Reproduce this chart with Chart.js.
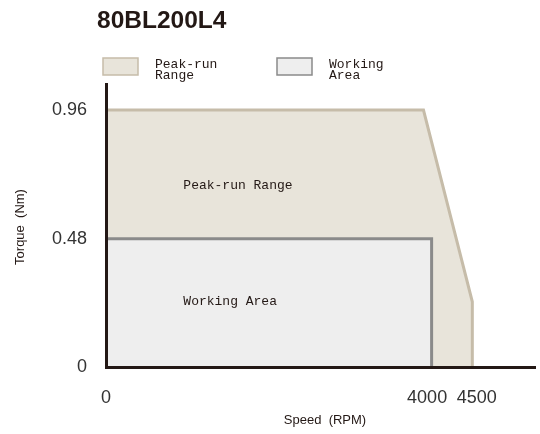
<!DOCTYPE html>
<html>
<head>
<meta charset="utf-8">
<script src="https://cdn.jsdelivr.net/npm/chart.js@4.4.1/dist/chart.umd.min.js"></script>
<style>
  html, body { margin: 0; padding: 0; background: #fff; }
  #wrap { width: 540px; height: 434px; position: relative; }
</style>
</head>
<body>
<div id="wrap"><canvas id="torqueChart" width="540" height="434"></canvas></div>
<script>
const chartTitle = "80BL200L4";
const seriesNames = ["Peak-run Range", "Working Area"];
const legendLines = [["Peak-run", "Range"], ["Working", "Area"]];

// outline points (speed RPM, torque Nm)
const peakSpeed = [0, 3900, 4500, 4500];
const peakTorque = [0.96, 0.96, 0.245, 0];
const workSpeed = [0, 4000, 4000];
const workTorque = [0.48, 0.48, 0];

const speedTicks = [0, 4000, 4500];
const torqueTicks = [0, 0.48, 0.96];

const toPoints = (xs, ys) => xs.map((x, i) => ({ x: x, y: ys[i] }));

const peakFill = "#e8e4da";
const peakLine = "#c6bca9";
const workFill = "#eeeeee";
const workLine = "#8a8a8a";
const axisColor = "#231815";

const labelsPlugin = {
  id: "labels",
  afterDraw(chart) {
    const ctx = chart.ctx;
    const xs = chart.scales.x;
    const ys = chart.scales.y;
    ctx.save();

    // title
    ctx.fillStyle = "#231815";
    ctx.font = "bold 24.5px 'Liberation Sans', Arial, sans-serif";
    ctx.textBaseline = "middle";
    ctx.textAlign = "left";
    ctx.fillText(chartTitle, 97, 21);

    // legend
    const boxes = [
      { x: 103, fill: peakFill, line: peakLine },
      { x: 277, fill: workFill, line: workLine },
    ];
    ctx.font = "13px 'Liberation Mono', monospace";
    boxes.forEach((b, i) => {
      ctx.fillStyle = b.fill;
      ctx.fillRect(b.x, 58, 35, 17);
      ctx.strokeStyle = b.line;
      ctx.lineWidth = 1.5;
      ctx.strokeRect(b.x, 58, 35, 17);
      ctx.fillStyle = "#231815";
      legendLines[i].forEach((t, j) => {
        ctx.fillText(t, b.x + 52, 65 + j * 11);
      });
    });

    // labels inside the areas
    ctx.fillText(seriesNames[0], xs.getPixelForValue(950), ys.getPixelForValue(0.68));
    ctx.fillText(seriesNames[1], xs.getPixelForValue(950), ys.getPixelForValue(0.245));

    // axis titles
    ctx.font = "13px 'Liberation Sans', Arial, sans-serif";
    ctx.textAlign = "center";
    ctx.fillText("Speed  (RPM)", 325, 420);
    ctx.translate(20, 227);
    ctx.rotate(-Math.PI / 2);
    ctx.fillText("Torque  (Nm)", 0, 0);
    ctx.restore();
  },
};

// nudge the two close speed labels apart a little, as in the source figure
const speedLabel = (v) => {
  if (v === 4000) return "4000\u2002";
  if (v === 4500) return "\u20024500";
  return String(v);
};

new Chart(document.getElementById("torqueChart"), {
  type: "scatter",
  data: {
    datasets: [
      {
        label: seriesNames[1],
        data: toPoints(workSpeed, workTorque),
        showLine: true,
        fill: "origin",
        backgroundColor: workFill,
        borderColor: workLine,
        borderWidth: 3,
        pointRadius: 0,
        tension: 0,
        order: 0,
      },
      {
        label: seriesNames[0],
        data: toPoints(peakSpeed, peakTorque),
        showLine: true,
        fill: "origin",
        backgroundColor: peakFill,
        borderColor: peakLine,
        borderWidth: 3,
        pointRadius: 0,
        tension: 0,
        order: 1,
      },
    ],
  },
  options: {
    responsive: false,
    animation: false,
    layout: { padding: { top: 84, right: 5, left: 0, bottom: 0 } },
    plugins: {
      legend: { display: false },
      tooltip: { enabled: false },
    },
    scales: {
      x: {
        type: "linear",
        min: 0,
        max: 5270,
        afterBuildTicks: (scale) => {
          scale.ticks = speedTicks.map((v) => ({ value: v }));
        },
        afterFit: (scale) => {
          scale.height = 66.5;
        },
        grid: { display: false },
        border: { display: true, color: axisColor, width: 3, z: 1 },
        ticks: {
          padding: 12,
          color: "#333",
          font: { family: "'Liberation Sans', Arial, sans-serif", size: 18 },
          callback: speedLabel,
        },
      },
      y: {
        type: "linear",
        min: 0,
        max: 1.057,
        afterBuildTicks: (scale) => {
          scale.ticks = torqueTicks.map((v) => ({ value: v }));
        },
        afterFit: (scale) => {
          scale.width = 106;
        },
        grid: { display: false },
        border: { display: true, color: axisColor, width: 3, z: 1 },
        ticks: {
          padding: 11,
          color: "#333",
          font: { family: "'Liberation Sans', Arial, sans-serif", size: 18 },
          callback: (v) => String(v),
        },
      },
    },
  },
  plugins: [labelsPlugin],
});
</script>
</body>
</html>
